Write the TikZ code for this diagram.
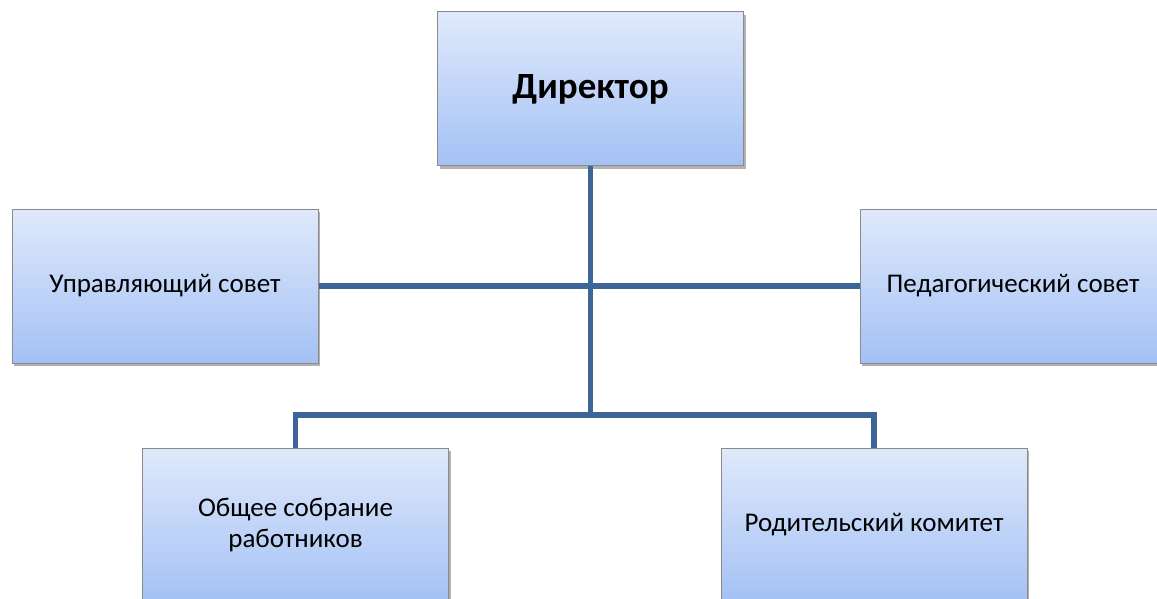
\documentclass[tikz,border=0pt]{standalone}
\usepackage{fontspec}
\setmainfont{Carlito}
\usetikzlibrary{shadows}

\definecolor{linkblue}{HTML}{3D6598}
\definecolor{boxtop}{HTML}{E0E9FB}
\definecolor{boxbottom}{HTML}{A3C1F5}
\definecolor{boxline}{HTML}{8A8A8A}

\begin{document}
\begin{tikzpicture}[x=1pt, y=-1pt,
  box/.style={rectangle, draw=boxline, line width=1pt,
    top color=boxtop, bottom color=boxbottom,
    minimum width=306pt, minimum height=154pt, align=center,
    font=\fontsize{27}{31}\selectfont,
    drop shadow={shadow xshift=2pt, shadow yshift=-3pt, opacity=0.3, fill=black}},
  link/.style={draw=linkblue, line width=5.5pt}]
  \useasboundingbox (0,0) rectangle (1157,599);
  \clip (0,0) rectangle (1157,599);

  \coordinate (hub) at (590.5,415);

  \node[box, font=\fontsize{37}{44}\selectfont\bfseries] (director) at (590.5,89) {Директор};
  \node[box] (council) at (165,286) {Управляющий совет};
  \node[box] (pedcouncil) at (1013,286) {Педагогический совет};
  \node[box] (assembly) at (295.5,525) {Общее собрание\\работников};
  \node[box] (parents) at (874,525) {Родительский комитет};

  % connectors
  \draw[link] (director.south) -- (hub);
  \draw[link] (council.east) -- (pedcouncil.west);
  \draw[link] (assembly.north) |- (hub) -| (parents.north);
\end{tikzpicture}
\end{document}
